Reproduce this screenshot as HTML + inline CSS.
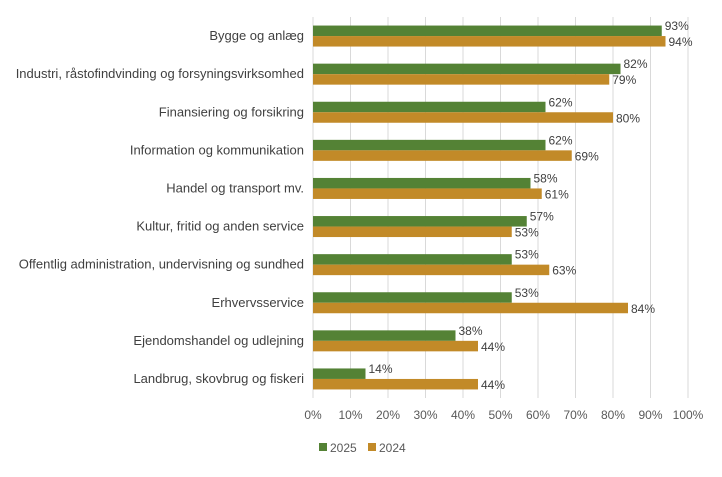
<!DOCTYPE html>
<html><head><meta charset="utf-8"><style>
body{margin:0;background:#fff;}
svg{font-family:"Liberation Sans",sans-serif;}
</style></head><body>
<svg id="chart" width="722" height="472" xmlns="http://www.w3.org/2000/svg"></svg>
<script>
const categories=["Bygge og anlæg","Industri, råstofindvinding og forsyningsvirksomhed","Finansiering og forsikring","Information og kommunikation","Handel og transport mv.","Kultur, fritid og anden service","Offentlig administration, undervisning og sundhed","Erhvervsservice","Ejendomshandel og udlejning","Landbrug, skovbrug og fiskeri"];
const values2025=[93,82,62,62,58,57,53,53,38,14];
const values2024=[94,79,80,69,61,53,63,84,44,44];
const ticks=[0,10,20,30,40,50,60,70,80,90,100];
const seriesNames=["2025","2024"];
const colors=["#548235","#C28A28"];

const svg=document.getElementById('chart');
const NS="http://www.w3.org/2000/svg";
const x0=313,x1=688,plotTop=17,plotBottom=398;
const xs=v=>x0+(x1-x0)*v/100;
const band=(plotBottom-plotTop)/categories.length;
const yc=i=>plotTop+band*(i+0.5);
function mk(tag,attrs,text){const e=document.createElementNS(NS,tag);for(const k in attrs)e.setAttribute(k,attrs[k]);if(text!==undefined)e.textContent=text;svg.appendChild(e);return e;}
ticks.forEach(t=>{
  const g=mk('line',{x1:xs(t),x2:xs(t),y1:plotTop,y2:plotBottom,stroke:'#d9d9d9','stroke-width':1});
  
  
  const l=mk('text',{x:xs(t),y:419,'text-anchor':'middle','font-size':12,fill:'#595959'},t+'%');
  
  
});
const bh=10.5;
categories.forEach((c,i)=>{
  const cy=yc(i);
  const lab=mk('text',{x:304,y:cy+4,'text-anchor':'end','font-size':13,fill:'#404040'},c);
  
  
  [values2025,values2024].forEach((arr,s)=>{
    const y=s===0?cy-bh:cy;
    const r=mk('rect',{x:x0,y:y,width:xs(arr[i])-x0,height:bh,fill:colors[s]});
    
    
    const t=mk('text',{x:xs(arr[i])+3,y:s===0?cy-6:cy+10,'font-size':12,fill:'#404040'},arr[i]+'%');
    
    
  });
});
[[319,'2025'],[368,'2024']].forEach((p,s)=>{
  const r=mk('rect',{x:p[0],y:443,width:8,height:8,fill:colors[s]});
  
  
  const t=mk('text',{x:p[0]+11,y:452,'font-size':12,fill:'#595959'},p[1]);
  
  
});
</script>
</body></html>
